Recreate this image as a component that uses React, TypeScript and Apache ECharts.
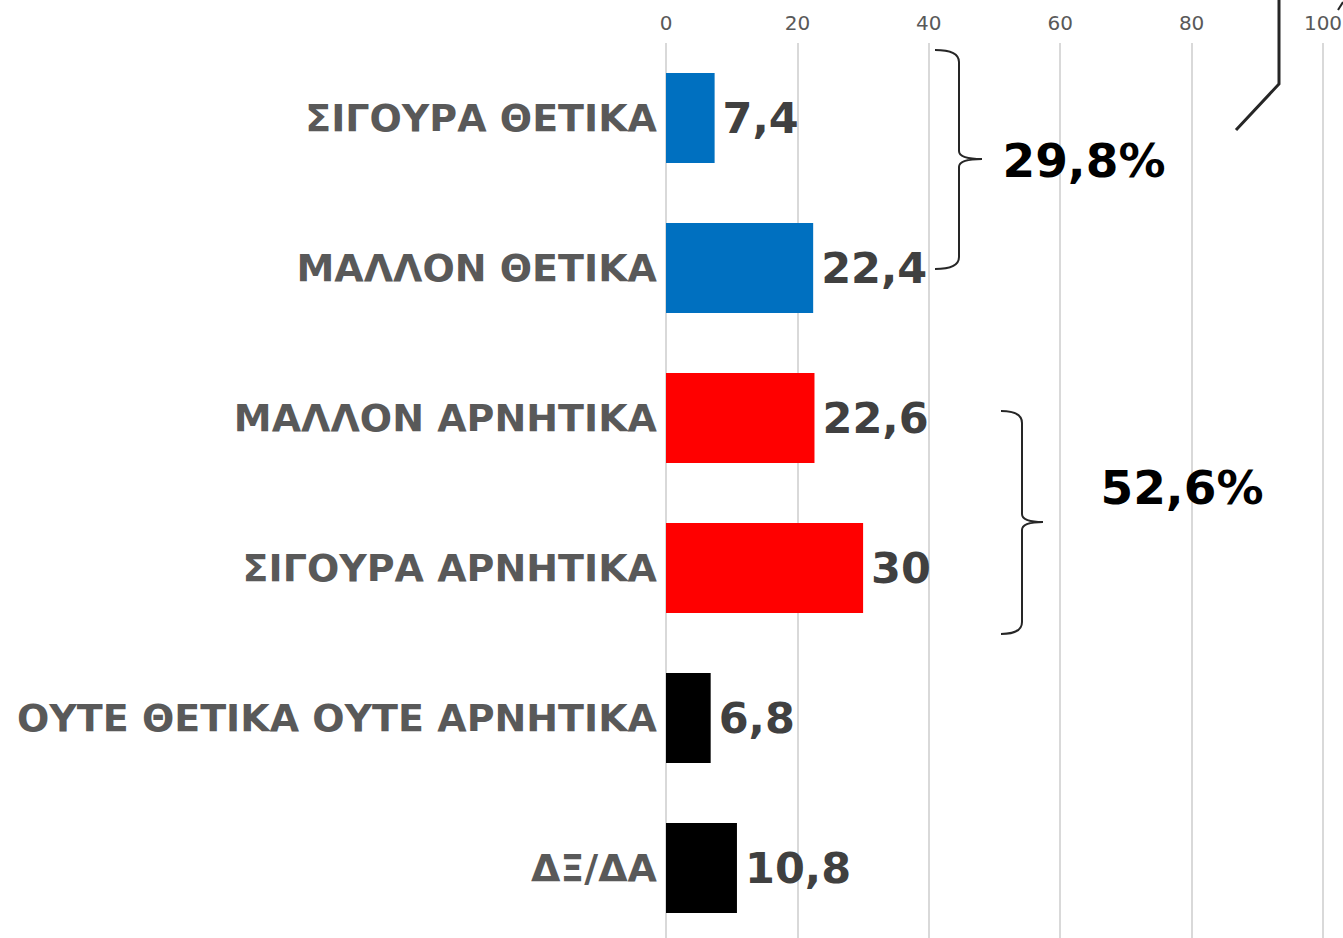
import React, { useEffect, useRef } from "react";
import * as echarts from "echarts";

const categories = [
  "ΣΙΓΟΥΡΑ ΘΕΤΙΚΑ",
  "ΜΑΛΛΟΝ ΘΕΤΙΚΑ",
  "ΜΑΛΛΟΝ ΑΡΝΗΤΙΚΑ",
  "ΣΙΓΟΥΡΑ ΑΡΝΗΤΙΚΑ",
  "ΟΥΤΕ ΘΕΤΙΚΑ ΟΥΤΕ ΑΡΝΗΤΙΚΑ",
  "ΔΞ/ΔΑ",
];
const values = [7.4, 22.4, 22.6, 30, 6.8, 10.8];
const barColors = ["#0070C0", "#0070C0", "#FF0000", "#FF0000", "#000000", "#000000"];
const groupLabels = ["29,8%", "52,6%"];

const FONT = "DejaVu Sans";

export default function App() {
  const ref = useRef<HTMLDivElement>(null);
  useEffect(() => {
    if (!ref.current) return;
    const chart = echarts.init(ref.current, undefined, { renderer: "svg" });
    const braceD = (x0: number, xv: number, xt: number, y0: number, ym: number, y1: number) =>
      `M${x0},${y0} Q${xv},${y0} ${xv},${y0 + 12} L${xv},${ym - 8} Q${xv},${ym} ${xt},${ym} Q${xv},${ym} ${xv},${ym + 8} L${xv},${y1 - 12} Q${xv},${y1} ${x0},${y1}`;
    echarts.graphic.registerShape(
      "brace1",
      echarts.graphic.extendPath(braceD(935, 959, 982, 50, 159, 269), {}) as any
    );
    echarts.graphic.registerShape(
      "brace2",
      echarts.graphic.extendPath(braceD(1001, 1022, 1043, 411, 522, 634), {}) as any
    );
    chart.setOption({
      animation: false,
      backgroundColor: "#ffffff",
      grid: {
        left: 666,
        width: 657,
        top: 43,
        height: 900,
        containLabel: false,
        outerBoundsMode: "none",
      },
      xAxis: {
        type: "value",
        position: "top",
        min: 0,
        max: 100,
        interval: 20,
        axisLine: { show: false },
        axisTick: { show: false },
        axisLabel: { color: "#595959", fontSize: 20, fontFamily: FONT, margin: 10 },
        splitLine: { show: true, lineStyle: { color: "#D9D9D9", width: 2 } },
      },
      yAxis: {
        type: "category",
        inverse: true,
        data: categories,
        axisLine: { show: false },
        axisTick: { show: false },
        axisLabel: {
          color: "#595959",
          fontSize: 38,
          fontWeight: "bold",
          fontFamily: FONT,
          margin: 9,
        },
      },
      series: [
        {
          type: "bar",
          barWidth: 90,
          data: values.map((v, i) => ({ value: v, itemStyle: { color: barColors[i] } })),
          label: {
            show: true,
            position: "right",
            distance: 8,
            color: "#404040",
            fontSize: 43,
            fontWeight: "bold",
            fontFamily: FONT,
            formatter: (p: any) => String(p.value).replace(".", ","),
          },
        },
      ],
      graphic: [
        { type: "brace1", z: 100, style: { fill: "none", stroke: "#262626", lineWidth: 2 } },
        { type: "brace2", z: 100, style: { fill: "none", stroke: "#262626", lineWidth: 2 } },
        {
          type: "polyline",
          z: 100,
          shape: { points: [[1236, 130], [1279, 84], [1279, -5]] },
          style: { fill: "none", stroke: "#262626", lineWidth: 3 },
        },
        {
          type: "line",
          z: 100,
          shape: { x1: 1338, y1: 10, x2: 1343, y2: 2 },
          style: { stroke: "#262626", lineWidth: 2 },
        },
        {
          type: "text",
          z: 100,
          x: 1084,
          y: 160,
          style: {
            text: groupLabels[0],
            fill: "#000000",
            font: `bold 47px '${FONT}'`,
            textAlign: "center",
            textVerticalAlign: "middle",
          },
        },
        {
          type: "text",
          z: 100,
          x: 1182,
          y: 487,
          style: {
            text: groupLabels[1],
            fill: "#000000",
            font: `bold 47px '${FONT}'`,
            textAlign: "center",
            textVerticalAlign: "middle",
          },
        },
      ],
    });
    return () => chart.dispose();
  }, []);
  return (
    <div
      ref={ref}
      style={{ position: "fixed", left: 0, top: 0, width: 1343, height: 950, background: "#fff" }}
    />
  );
}
